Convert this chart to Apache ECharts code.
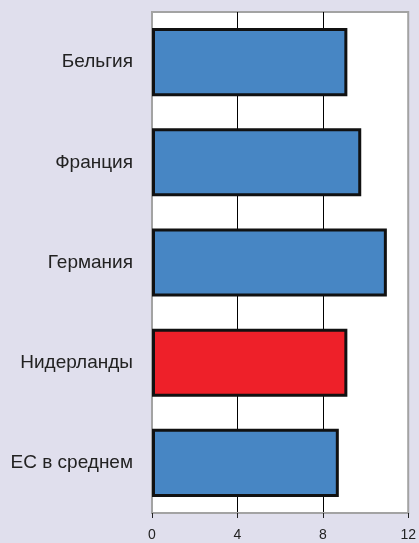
<!DOCTYPE html>
<html>
<head>
<meta charset="utf-8">
<script src="https://cdn.jsdelivr.net/npm/echarts@6/dist/echarts.min.js"></script>
<style>
  html, body { margin: 0; padding: 0; background: #e0dfed; }
  #chart { width: 419px; height: 543px; }
</style>
</head>
<body>
<div id="chart"></div>
<script>
// Countries, top to bottom
const categories = ['Бельгия', 'Франция', 'Германия', 'Нидерланды', 'ЕС в среднем'];
const values = [9.15, 9.8, 11.0, 9.15, 8.75];
const barColors = ['#4786c4', '#4786c4', '#4786c4', '#ee2029', '#4786c4'];
const xTicks = [0, 4, 8, 12];

const chart = echarts.init(document.getElementById('chart'), null, { renderer: 'canvas' });

chart.setOption({
  backgroundColor: '#e0dfed',
  animation: false,
  grid: {
    left: 152, right: 9, top: 12, bottom: 30,
    show: true,
    backgroundColor: '#ffffff',
    borderColor: '#a3a3a3',
    borderWidth: 2
  },
  xAxis: {
    type: 'value',
    min: xTicks[0],
    max: xTicks[xTicks.length - 1],
    interval: 4,
    axisLine: { show: true, lineStyle: { color: '#a3a3a3', width: 2 } },
    axisTick: { show: true, length: 5, lineStyle: { color: '#222', width: 1 } },
    axisLabel: {
      color: '#222', fontSize: 14, margin: 15,
      fontFamily: 'Liberation Sans, Arial, sans-serif'
    },
    splitLine: {
      show: true,
      lineStyle: { color: ['#a3a3a3', '#000', '#000', '#a3a3a3'], width: 1 }
    }
  },
  yAxis: {
    type: 'category',
    inverse: true,
    data: categories,
    axisLine: { show: true, lineStyle: { color: '#a3a3a3', width: 2 } },
    axisTick: { show: false },
    axisLabel: {
      color: '#222', fontSize: 19, margin: 19,
      fontFamily: 'Liberation Sans, Arial, sans-serif'
    }
  },
  series: [{
    type: 'bar',
    barCategoryGap: '32%',
    data: values.map((v, i) => ({
      value: v,
      itemStyle: { color: barColors[i] }
    })),
    itemStyle: { borderColor: '#111', borderWidth: 3 }
  }]
});
</script>
</body>
</html>
